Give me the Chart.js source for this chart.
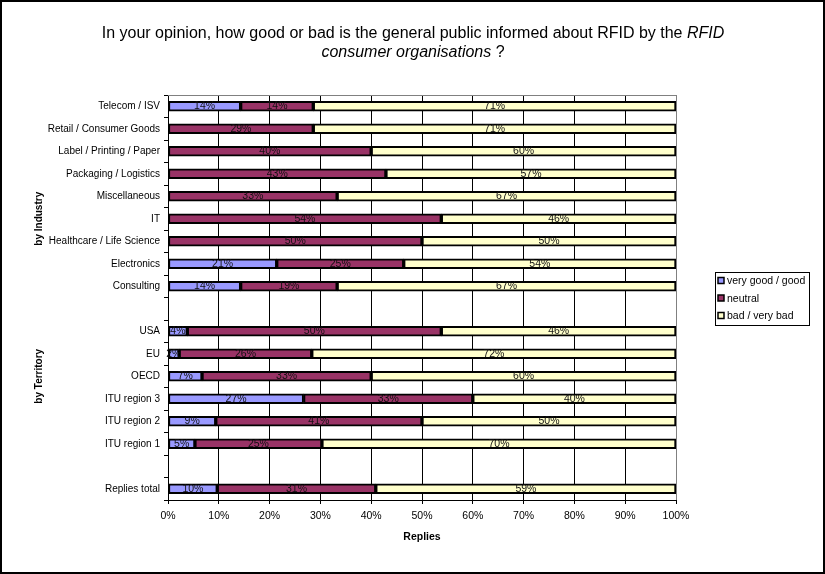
<!doctype html>
<html lang="en">
  <head>
    <meta charset="utf-8">
    <title>RFID consumer organisations</title>
    <script src="https://cdn.jsdelivr.net/npm/chart.js"></script>
    <style>
      html, body { margin: 0; padding: 0; background: #fff; }
      .chart-box { width: 825px; height: 574px; position: relative; }
    </style>
  </head>
  <body>
    <div class="chart-box">
      <canvas id="rfidChart"></canvas>
    </div>
    <script>
      // categories, top to bottom ('' = spacer row)
      const categories = ['Telecom / ISV', 'Retail / Consumer Goods', 'Label / Printing / Paper', 'Packaging / Logistics',
        'Miscellaneous', 'IT', 'Healthcare / Life Science', 'Electronics', 'Consulting', '',
        'USA', 'EU', 'OECD', 'ITU region 3', 'ITU region 2', 'ITU region 1', '', 'Replies total'];
      const veryGood = [14.3, 0, 0, 0, 0, 0, 0, 21.4, 14.3, null, 3.8, 2.2, 6.7, 26.7, 9.4, 5.3, null, 9.7];
      const neutral = [14.3, 28.6, 40, 42.9, 33.3, 53.8, 50, 25, 19, null, 50, 26.1, 33.3, 33.3, 40.6, 25, null, 31.2];
      const bad = [71.4, 71.4, 60, 57.1, 66.7, 46.2, 50, 53.6, 66.7, null, 46.2, 71.7, 60, 40, 50, 69.7, null, 59.1];
      const seriesNames = ['very good / good', 'neutral', 'bad / very bad'];
      const seriesColors = ['#9999FF', '#993366', '#FFFFCC'];
      const xTicks = [0, 10, 20, 30, 40, 50, 60, 70, 80, 90, 100];
      const groupLabels = ['by Industry', 'by Territory'];
      const groupRows = [5, 12];

      const FONT = 'Liberation Sans, Arial, sans-serif';

      const extras = {
        id: 'extras',
        afterDatasetsDraw(chart) {
          const ctx = chart.ctx;
          ctx.save();
          ctx.font = '10.5px ' + FONT;
          ctx.fillStyle = '#111';
          ctx.textAlign = 'center';
          ctx.textBaseline = 'middle';
          chart.data.datasets.forEach((ds, i) => {
            chart.getDatasetMeta(i).data.forEach((bar, j) => {
              const v = ds.data[j];
              if (!v) return;
              ctx.fillText(Math.round(v) + '%', (bar.x + bar.base) / 2, bar.y);
            });
          });
          ctx.restore();
        },
        afterDraw(chart) {
          const ctx = chart.ctx;
          const area = chart.chartArea;
          const y = chart.scales.y;
          ctx.save();
          // top plot edge
          ctx.strokeStyle = '#808080';
          ctx.lineWidth = 1;
          ctx.beginPath();
          ctx.moveTo(area.left, area.top + 0.5);
          ctx.lineTo(area.right, area.top + 0.5);
          ctx.stroke();

          // title
          ctx.fillStyle = '#000';
          ctx.textBaseline = 'middle';
          ctx.textAlign = 'left';
          const lines = [
            [['In your opinion, how good or bad is the general public informed about RFID by the ', 'normal'], ['RFID', 'italic']],
            [['consumer organisations', 'italic'], [' ?', 'normal']]
          ];
          const ty = [34, 53];
          lines.forEach((parts, k) => {
            let w = 0;
            parts.forEach(p => { ctx.font = p[1] + ' 16px ' + FONT; w += ctx.measureText(p[0]).width; });
            let x = 413 - w / 2;
            parts.forEach(p => {
              ctx.font = p[1] + ' 16px ' + FONT;
              ctx.fillText(p[0], x, ty[k]);
              x += ctx.measureText(p[0]).width;
            });
          });

          // group labels
          ctx.font = 'bold 10px ' + FONT;
          ctx.textAlign = 'center';
          groupLabels.forEach((g, k) => {
            ctx.save();
            ctx.translate(39, y.getPixelForValue(groupRows[k]));
            ctx.rotate(-Math.PI / 2);
            ctx.fillText(g, 0, 0);
            ctx.restore();
          });

          // legend
          ctx.fillStyle = '#fff';
          ctx.fillRect(715, 272, 94, 53);
          ctx.strokeStyle = '#000';
          ctx.lineWidth = 1;
          ctx.strokeRect(715.5, 272.5, 94, 53);
          ctx.font = '10.5px ' + FONT;
          ctx.textAlign = 'left';
          seriesNames.forEach((n, k) => {
            const ly = 281 + k * 17.5;
            ctx.fillStyle = seriesColors[k];
            ctx.fillRect(718, ly - 3.5, 6, 6);
            ctx.lineWidth = 1.5;
            ctx.strokeRect(718, ly - 3.5, 6, 6);
            ctx.fillStyle = '#000';
            ctx.fillText(n, 727, ly + 0.5);
          });

          // outer frame
          ctx.strokeStyle = '#000';
          ctx.lineWidth = 2;
          ctx.strokeRect(1, 1, 823, 572);
          ctx.restore();
        }
      };

      new Chart(document.getElementById('rfidChart'), {
        type: 'bar',
        data: {
          labels: categories,
          datasets: seriesNames.map((n, i) => ({
            label: n,
            data: [veryGood, neutral, bad][i],
            backgroundColor: seriesColors[i],
            borderColor: '#000',
            borderWidth: 2,
            borderSkipped: false,
            barThickness: 10
          }))
        },
        options: {
          indexAxis: 'y',
          responsive: true,
          maintainAspectRatio: false,
          animation: false,
          layout: { padding: { left: 0, right: 149, top: 95, bottom: 27 } },
          plugins: { legend: { display: false }, tooltip: { enabled: false } },
          scales: {
            x: {
              stacked: true,
              min: 0,
              max: 100,
              afterFit: s => { s.height = 47; },
              afterBuildTicks: s => { s.ticks = xTicks.map(v => ({ value: v })); },
              ticks: { callback: v => v + '%', color: '#000', font: { family: FONT, size: 10.5 }, padding: 6, maxRotation: 0 },
              grid: { color: c => c.index === xTicks.length - 1 ? '#808080' : '#000', tickColor: '#000', tickLength: 4, lineWidth: 1 },
              border: { color: '#000', width: 1 },
              title: { display: true, text: 'Replies', color: '#000', font: { family: FONT, size: 10.5, weight: 'bold' }, padding: { top: 7 } }
            },
            y: {
              stacked: true,
              afterFit: s => { s.width = 168; },
              ticks: { color: '#000', font: { family: FONT, size: 10 }, padding: 4, autoSkip: false },
              grid: { offset: true, drawOnChartArea: false, tickColor: '#000', tickLength: 4 },
              border: { color: '#000', width: 1 }
            }
          }
        },
        plugins: [extras]
      });
    </script>
  </body>
</html>
